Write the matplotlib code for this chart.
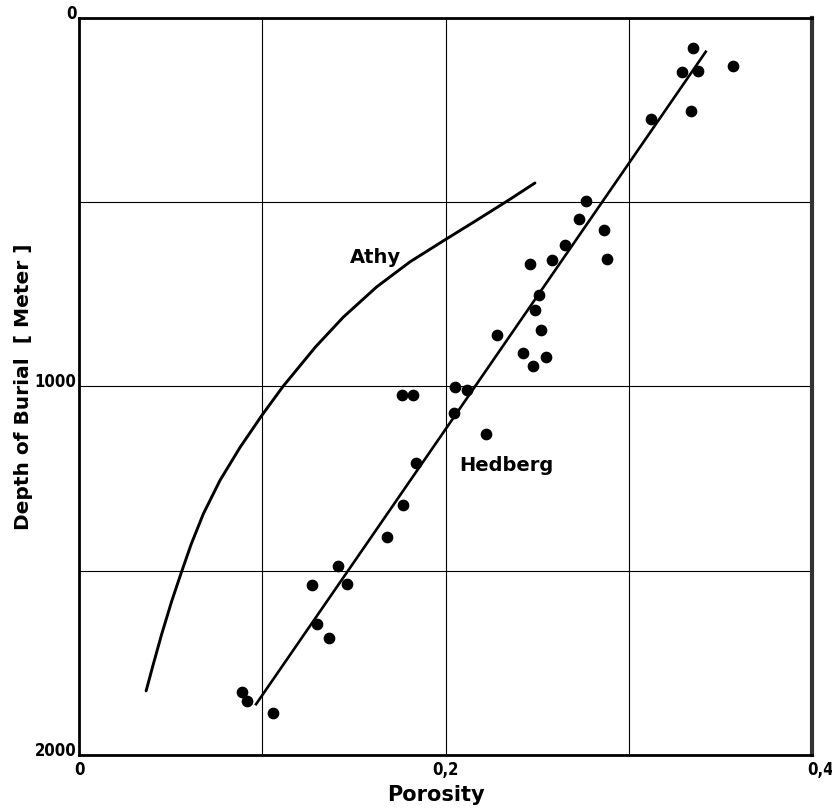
import matplotlib
matplotlib.use("Agg")
import matplotlib.pyplot as plt
import matplotlib.transforms as mtransforms

# measured samples (porosity, depth in m)
por = [0.335, 0.357, 0.329, 0.338, 0.334, 0.312,
       0.2765, 0.273, 0.2865, 0.288, 0.265, 0.258, 0.246, 0.251, 0.249,
       0.252, 0.228, 0.242, 0.255, 0.248,
       0.205, 0.2116, 0.2048, 0.176, 0.182,
       0.222, 0.184, 0.177,
       0.168, 0.1415, 0.127, 0.146, 0.130, 0.1364, 0.0888, 0.0919, 0.106]
depth = [81, 132, 148, 144, 253, 274,
         496, 546, 576, 653, 617, 656, 669, 751, 792,
         848, 860, 909, 920, 945,
         1002, 1011, 1073, 1023, 1023,
         1129, 1208, 1323,
         1408, 1486, 1538, 1536, 1645, 1683, 1829, 1853, 1885]

# Hedberg trend line (end points)
hed_por = [0.342, 0.0966]
hed_depth = [92, 1862]

# Athy curve
athy_por = [0.2488, 0.2343, 0.217, 0.1988, 0.1806, 0.1624, 0.1442, 0.1290,
            0.1113, 0.0997, 0.0879, 0.0769, 0.0678, 0.0612, 0.0558, 0.0506,
            0.0451, 0.0405, 0.0366]
athy_depth = [448, 495, 549, 605, 662, 730, 812, 893,
              1000, 1079, 1165, 1255, 1346, 1428, 1505, 1582,
              1672, 1754, 1826]

fig = plt.figure(figsize=(8.32, 8.11), dpi=100)
ax = fig.add_axes([0.095, 0.069, 0.881, 0.909])

ax.plot(athy_por, athy_depth, color="black", lw=2.1, solid_capstyle="round",
        solid_joinstyle="round")
ax.plot(hed_por, hed_depth, color="black", lw=1.9)
ax.scatter(por, depth, s=55, color="black", zorder=3)

ax.set_xlim(0, 0.4)
ax.set_ylim(2000, 0)
ax.set_xticks([0, 0.1, 0.2, 0.3, 0.4])
ax.set_yticks([0, 500, 1000, 1500, 2000])
ax.set_xticklabels(["0", "", "0,2", "", "0,4"])
ax.set_yticklabels(["0", "", "1000", "", "2000"])
ax.tick_params(length=0, labelsize=12)
ax.tick_params(axis="y", pad=2)
ax.tick_params(axis="x", pad=4)
up = mtransforms.ScaledTranslation(0, 6 / 100, fig.dpi_scale_trans)
for lab in ax.get_yticklabels():
    lab.set_transform(lab.get_transform() + up)
xr = mtransforms.ScaledTranslation(8 / 100, 0, fig.dpi_scale_trans)
ax.get_xticklabels()[-1].set_transform(ax.get_xticklabels()[-1].get_transform() + xr)
for lab in ax.get_xticklabels() + ax.get_yticklabels():
    lab.set_fontstretch("condensed")
    lab.set_fontweight("bold")
ax.grid(True, color="black", lw=0.8)
for sp in ax.spines.values():
    sp.set_linewidth(2.0)
ax.spines["right"].set_linewidth(3.0)
ax.spines["right"].set_color("#333333")

ax.text(0.1615, 650, "Athy", fontsize=14, fontweight="bold", ha="center", va="center")
ax.text(0.233, 1215, "Hedberg", fontsize=14, fontweight="bold", ha="center", va="center")

ax.set_xlabel("Porosity", fontsize=15, fontweight="bold")
ax.xaxis.set_label_coords(0.487, -0.040)
ax.set_ylabel("Depth of Burial  [ Meter ]", fontsize=14.5, fontweight="bold")
ax.yaxis.set_label_coords(-0.063, 0.5)

fig.savefig("out.png", dpi=100)
